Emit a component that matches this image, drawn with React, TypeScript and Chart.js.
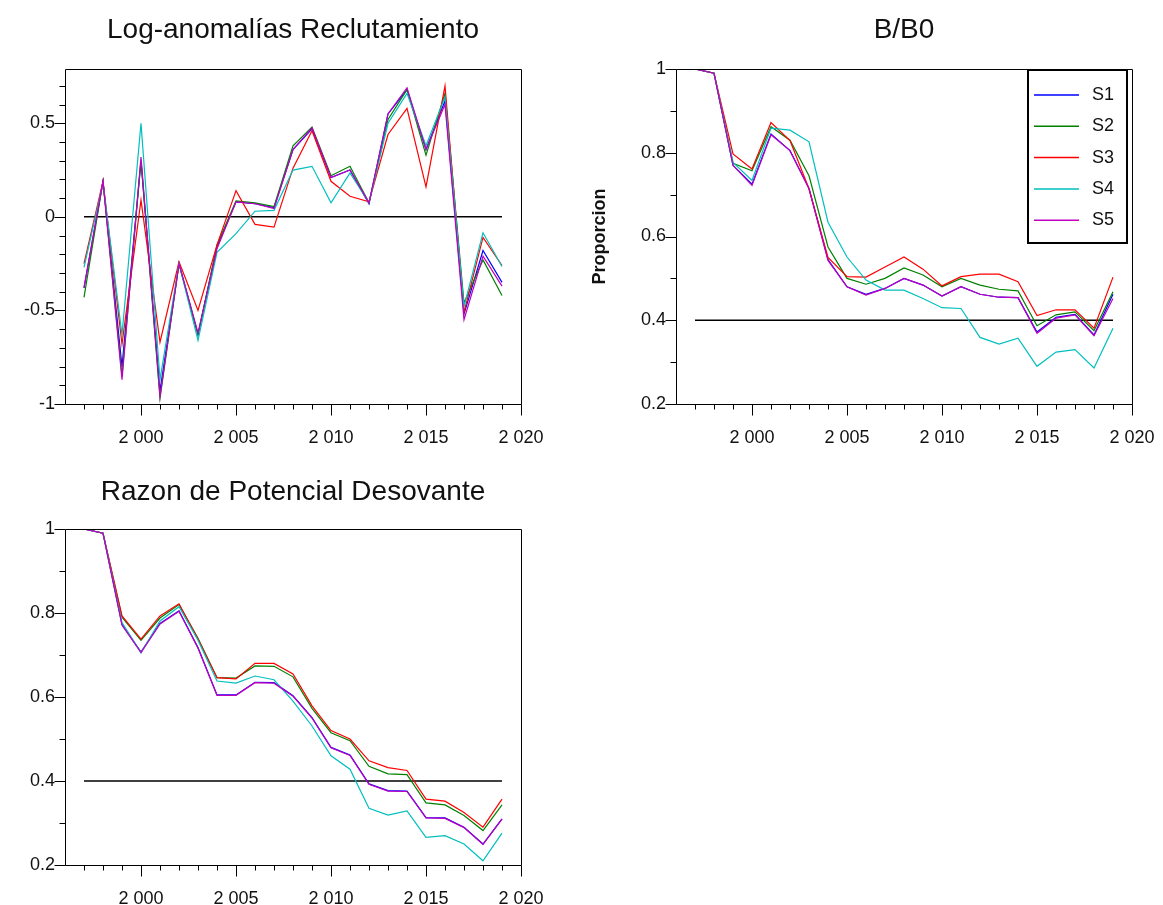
import React, { useEffect, useRef } from 'react';
import { Chart, registerables } from 'chart.js';

Chart.register(...registerables);

// ---------- data ----------
const years = [1997, 1998, 1999, 2000, 2001, 2002, 2003, 2004, 2005, 2006, 2007, 2008, 2009, 2010, 2011, 2012, 2013, 2014, 2015, 2016, 2017, 2018, 2019];
const seriesNames = ['S1', 'S2', 'S3', 'S4', 'S5'];

// Log-anomalías Reclutamiento
const recS1 = [-0.38, 0.19, -0.80, 0.30, -0.93, -0.25, -0.63, -0.16, 0.08, 0.07, 0.05, 0.36, 0.47, 0.21, 0.25, 0.07, 0.55, 0.68, 0.36, 0.62, -0.52, -0.18, -0.35];
const recS2 = [-0.43, 0.19, -0.85, 0.30, -0.97, -0.25, -0.63, -0.15, 0.085, 0.075, 0.055, 0.38, 0.48, 0.22, 0.27, 0.075, 0.52, 0.68, 0.33, 0.66, -0.46, -0.23, -0.42];
const recS3 = [-0.25, 0.19, -0.68, 0.09, -0.67, -0.24, -0.50, -0.15, 0.14, -0.04, -0.055, 0.26, 0.46, 0.19, 0.11, 0.08, 0.44, 0.58, 0.16, 0.70, -0.51, -0.11, -0.26];
const recS4 = [-0.27, 0.18, -0.63, 0.50, -0.87, -0.25, -0.66, -0.19, -0.09, 0.03, 0.035, 0.25, 0.27, 0.075, 0.235, 0.075, 0.50, 0.66, 0.38, 0.64, -0.48, -0.085, -0.265];
const recS5 = [-0.38, 0.19, -0.87, 0.32, -0.96, -0.25, -0.62, -0.17, 0.08, 0.07, 0.045, 0.36, 0.475, 0.21, 0.25, 0.075, 0.55, 0.69, 0.36, 0.60, -0.55, -0.21, -0.37];

// B/B0
const bbS1 = [1.0, 0.99, 0.77, 0.725, 0.845, 0.805, 0.715, 0.545, 0.48, 0.462, 0.476, 0.50, 0.484, 0.458, 0.48, 0.462, 0.455, 0.454, 0.372, 0.407, 0.414, 0.365, 0.462];
const bbS2 = [1.0, 0.99, 0.775, 0.757, 0.862, 0.83, 0.745, 0.575, 0.50, 0.486, 0.50, 0.525, 0.508, 0.48, 0.50, 0.484, 0.474, 0.47, 0.387, 0.413, 0.42, 0.375, 0.468];
const bbS3 = [1.0, 0.99, 0.797, 0.761, 0.872, 0.829, 0.714, 0.55, 0.504, 0.503, 0.527, 0.551, 0.522, 0.482, 0.504, 0.51, 0.51, 0.492, 0.411, 0.425, 0.425, 0.381, 0.503];
const bbS4 = [1.0, 0.99, 0.777, 0.734, 0.859, 0.854, 0.826, 0.634, 0.551, 0.496, 0.472, 0.472, 0.452, 0.43, 0.428, 0.359, 0.343, 0.357, 0.29, 0.324, 0.33, 0.286, 0.381];
const bbS5 = [1.0, 0.99, 0.77, 0.722, 0.843, 0.805, 0.714, 0.543, 0.48, 0.46, 0.476, 0.50, 0.484, 0.458, 0.48, 0.462, 0.455, 0.454, 0.369, 0.405, 0.413, 0.363, 0.452];

// Razon de Potencial Desovante
const spS1 = [1.0, 0.99, 0.773, 0.707, 0.775, 0.805, 0.718, 0.605, 0.605, 0.635, 0.634, 0.603, 0.551, 0.48, 0.462, 0.393, 0.377, 0.376, 0.313, 0.312, 0.29, 0.25, 0.31];
const spS2 = [1.0, 0.99, 0.79, 0.735, 0.788, 0.82, 0.74, 0.646, 0.645, 0.674, 0.673, 0.648, 0.573, 0.515, 0.496, 0.435, 0.417, 0.415, 0.348, 0.343, 0.318, 0.282, 0.343];
const spS3 = [1.0, 0.99, 0.793, 0.738, 0.793, 0.822, 0.738, 0.646, 0.643, 0.68, 0.68, 0.655, 0.579, 0.52, 0.50, 0.448, 0.432, 0.425, 0.357, 0.352, 0.325, 0.29, 0.357];
const spS4 = [1.0, 0.99, 0.777, 0.705, 0.781, 0.815, 0.735, 0.638, 0.633, 0.65, 0.641, 0.59, 0.531, 0.46, 0.428, 0.335, 0.319, 0.329, 0.266, 0.27, 0.25, 0.21, 0.276];
const spS5 = [1.0, 0.99, 0.771, 0.706, 0.774, 0.804, 0.716, 0.604, 0.604, 0.634, 0.633, 0.602, 0.55, 0.479, 0.461, 0.392, 0.376, 0.375, 0.312, 0.311, 0.289, 0.249, 0.309];

// reference lines
const refYears = [1997, 2019];
const recRef = [0, 0];
const ratioRef = [0.4, 0.4];

// ticks
const xTickValues = [2000, 2005, 2010, 2015, 2020];
const xTickLabels = ['2 000', '2 005', '2 010', '2 015', '2 020'];
const xMinorValues = [1997, 1998, 1999, 2001, 2002, 2003, 2004, 2006, 2007, 2008, 2009, 2011, 2012, 2013, 2014, 2016, 2017, 2018, 2019];
const recYTicks = [-1, -0.5, 0, 0.5];
const recYLabels = ['-1', '-0.5', '0', '0.5'];
const recYMinor = [-0.9, -0.8, -0.7, -0.6, -0.4, -0.3, -0.2, -0.1, 0.1, 0.2, 0.3, 0.4, 0.6, 0.7];
const ratioYTicks = [0.2, 0.4, 0.6, 0.8, 1];
const ratioYLabels = ['0.2', '0.4', '0.6', '0.8', '1'];
const ratioYMinor = [0.3, 0.5, 0.7, 0.9];

// ---------- styling ----------
const seriesColors = ['#0000ff', '#008000', '#ff0000', '#00bfbf', '#bf00bf'];
const FONT = "'Liberation Sans', Arial, Helvetica, sans-serif";
Chart.defaults.font.family = FONT;
Chart.defaults.color = '#000';

const frameTicksPlugin = {
  id: 'frameTicks',
  afterDraw(chart: any, _args: any, opts: any) {
    const { ctx, chartArea: a, scales } = chart;
    const x = scales.x;
    const y = scales.y;
    ctx.save();
    ctx.strokeStyle = '#000';
    ctx.lineWidth = 1;
    const L = Math.round(a.left) + 0.5;
    const R = Math.round(a.right) + 0.5;
    const T = Math.round(a.top) + 0.5;
    const B = Math.round(a.bottom) + 0.5;
    ctx.beginPath();
    ctx.rect(L, T, R - L, B - T);
    ctx.stroke();
    ctx.beginPath();
    const xt = (vals: number[], len: number) => {
      vals.forEach((v) => {
        const px = Math.round(x.getPixelForValue(v)) + 0.5;
        ctx.moveTo(px, B);
        ctx.lineTo(px, B + len);
      });
    };
    const yt = (vals: number[], len: number) => {
      vals.forEach((v) => {
        const py = Math.round(y.getPixelForValue(v)) + 0.5;
        ctx.moveTo(L, py);
        ctx.lineTo(L - len, py);
      });
    };
    xt(opts.xMajor || [], 11);
    xt(opts.xMinor || [], 5);
    yt(opts.yMajor || [], 11);
    yt(opts.yMinor || [], 6);
    ctx.stroke();
    ctx.restore();
  },
};

const boxLegendPlugin = {
  id: 'boxLegend',
  afterDraw(chart: any, _args: any, opts: any) {
    if (!opts || !opts.show) return;
    const { ctx, chartArea: a } = chart;
    const right = a.right - 5;
    const top = a.top + 1;
    const w = 99;
    const h = 173;
    const left = right - w;
    ctx.save();
    ctx.fillStyle = '#fff';
    ctx.fillRect(left, top, w, h);
    ctx.strokeStyle = '#000';
    ctx.lineWidth = 2;
    ctx.strokeRect(left, top, w, h);
    const items = chart.data.datasets.filter((d: any) => d.inLegend);
    items.forEach((d: any, i: number) => {
      const yy = top + 25 + i * 31.3;
      ctx.strokeStyle = d.borderColor;
      ctx.lineWidth = 1.5;
      ctx.beginPath();
      ctx.moveTo(left + 6, yy);
      ctx.lineTo(left + 51, yy);
      ctx.stroke();
      ctx.fillStyle = '#111';
      ctx.font = `18px ${FONT}`;
      ctx.textBaseline = 'middle';
      ctx.textAlign = 'left';
      ctx.fillText(d.label, left + 64, yy);
    });
    ctx.restore();
  },
};

type Panel = {
  title: string;
  series: number[][];
  ref: number[];
  yMin: number;
  yMax: number;
  yTicks: number[];
  yLabels: string[];
  yMinor: number[];
  yTitle?: string;
  legend?: boolean;
  layout: { left: number; right: number; bottom: number; yWidth: number; titleTop: number; titleBottom: number };
};

function buildConfig(p: Panel): any {
  const datasets: any[] = [
    {
      label: 'ref',
      data: refYears.map((x, i) => ({ x, y: p.ref[i] })),
      borderColor: '#000',
      borderWidth: 1.5,
      pointRadius: 0,
      order: 10,
      inLegend: false,
    },
    ...p.series.map((vals, i) => ({
      label: seriesNames[i],
      data: years.map((x, j) => ({ x, y: vals[j] })),
      borderColor: seriesColors[i],
      backgroundColor: seriesColors[i],
      borderWidth: 1.2,
      pointRadius: 0,
      tension: 0,
      order: 5 - i,
      inLegend: true,
    })),
  ];
  return {
    type: 'line',
    data: { datasets },
    plugins: [frameTicksPlugin, boxLegendPlugin],
    options: {
      animation: false,
      responsive: false,
      devicePixelRatio: 1,
      events: [],
      layout: { padding: { left: p.layout.left, right: p.layout.right, top: 0, bottom: p.layout.bottom } },
      plugins: {
        legend: { display: false },
        tooltip: { enabled: false },
        title: {
          display: true,
          text: p.title,
          fullSize: false,
          color: '#111',
          font: { size: 28, weight: 'normal', family: FONT, lineHeight: 1.2 },
          padding: { top: p.layout.titleTop, bottom: p.layout.titleBottom },
        },
        frameTicks: { xMajor: xTickValues, xMinor: xMinorValues, yMajor: p.yTicks, yMinor: p.yMinor },
        boxLegend: { show: !!p.legend },
      },
      scales: {
        x: {
          type: 'linear',
          min: 1996,
          max: 2020,
          afterBuildTicks: (s: any) => {
            s.ticks = xTickValues.map((v) => ({ value: v }));
          },
          afterFit: (s: any) => {
            s.height = 40;
          },
          ticks: {
            autoSkip: false,
            maxRotation: 0,
            padding: 0,
            color: '#111',
            font: { size: 18, family: FONT },
            callback: (_v: any, i: number) => xTickLabels[i],
          },
          grid: { display: true, drawOnChartArea: false, drawTicks: true, tickLength: 23, tickColor: 'rgba(0,0,0,0)' },
          border: { display: false },
        },
        y: {
          type: 'linear',
          min: p.yMin,
          max: p.yMax,
          afterBuildTicks: (s: any) => {
            s.ticks = p.yTicks.map((v) => ({ value: v }));
          },
          afterFit: (s: any) => {
            s.width = p.layout.yWidth;
          },
          ticks: {
            autoSkip: false,
            padding: 0,
            color: '#111',
            font: { size: 18, family: FONT },
            callback: (_v: any, i: number) => p.yLabels[i],
          },
          title: p.yTitle
            ? {
                display: true,
                text: p.yTitle,
                color: '#111',
                padding: 0,
                font: { size: 18, weight: 'bold', family: FONT, lineHeight: 1.2 },
              }
            : { display: false },
          grid: { display: true, drawOnChartArea: false, drawTicks: true, tickLength: 10, tickColor: 'rgba(0,0,0,0)' },
          border: { display: false },
        },
      },
    },
  };
}

const panels: Panel[] = [
  {
    title: 'Log-anomalías Reclutamiento',
    series: [recS1, recS2, recS3, recS4, recS5],
    ref: recRef,
    yMin: -1,
    yMax: 0.79,
    yTicks: recYTicks,
    yLabels: recYLabels,
    yMinor: recYMinor,
    layout: { left: 0, yWidth: 65, right: 1163 - 521, bottom: 905 - 404 - 40, titleTop: 13.2, titleBottom: 22.2 },
  },
  {
    title: 'B/B0',
    series: [bbS1, bbS2, bbS3, bbS4, bbS5],
    ref: ratioRef,
    yMin: 0.2,
    yMax: 1,
    yTicks: ratioYTicks,
    yLabels: ratioYLabels,
    yMinor: ratioYMinor,
    yTitle: 'Proporcion',
    legend: true,
    layout: { left: 589, yWidth: 87, right: 1163 - 1132, bottom: 905 - 404 - 40, titleTop: 13.2, titleBottom: 22.2 },
  },
  {
    title: 'Razon de Potencial Desovante',
    series: [spS1, spS2, spS3, spS4, spS5],
    ref: ratioRef,
    yMin: 0.2,
    yMax: 1,
    yTicks: ratioYTicks,
    yLabels: ratioYLabels,
    yMinor: ratioYMinor,
    layout: { left: 0, yWidth: 65, right: 1163 - 521, bottom: 905 - 865 - 40, titleTop: 475.2, titleBottom: 20.2 },
  },
];

function PanelCanvas({ panel }: { panel: Panel }) {
  const ref = useRef<HTMLCanvasElement | null>(null);
  useEffect(() => {
    if (!ref.current) return;
    const chart = new Chart(ref.current, buildConfig(panel));
    return () => chart.destroy();
  }, [panel]);
  return (
    <canvas
      ref={ref}
      width={1163}
      height={905}
      style={{ position: 'absolute', left: 0, top: 0, width: 1163, height: 905 }}
    />
  );
}

export default function App() {
  return (
    <div style={{ position: 'absolute', left: 0, top: 0, width: 1163, height: 905, background: '#fff', overflow: 'hidden' }}>
      {panels.map((p, i) => (
        <PanelCanvas key={i} panel={p} />
      ))}
    </div>
  );
}
